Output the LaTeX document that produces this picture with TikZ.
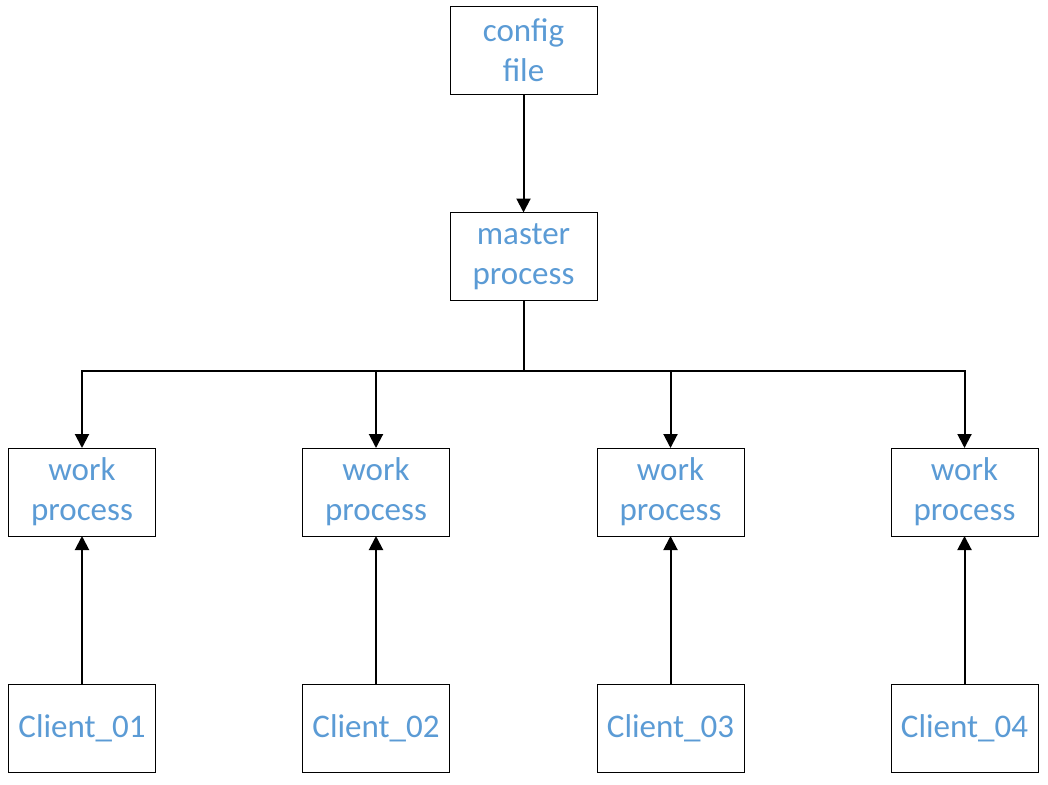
\documentclass[tikz,border=0pt]{standalone}
\usepackage{fontspec}
\setmainfont{Carlito}
\usetikzlibrary{arrows.meta}

\definecolor{c5b9bd5}{RGB}{91,155,213}

\begin{document}
\begin{tikzpicture}[y=-1pt, x=1pt, inner sep=0pt, outer sep=0pt,
    box/.style={draw=black,fill=white,line width=1pt,minimum width=147pt,
      minimum height=88pt,align=center,text=c5b9bd5,
      font=\fontsize{33}{40}\selectfont},
    link/.style={draw=black,line width=2pt,-{Triangle[width=14pt,length=14pt]}}]
  \useasboundingbox (0,0) rectangle (1048,784);

  \node[box] (config) at (523.5,50.5) {config\\file};
  \node[box] (master) at (523.5,256.5) {master\\process};
  \coordinate (hub) at (523.5,371);

  \foreach \i/\x in {1/82,2/376,3/670.5,4/964.5} {
    \node[box] (work\i) at (\x,492) {work\\process};
    \node[box] (client\i) at (\x,728) {Client\_0\i};
  }

  \draw[link] (config.south) -- (master.north);
  \draw[line width=2pt] (master.south) -- (hub);
  \foreach \i in {1,...,4} {
    \draw[link] (hub) -| (work\i.north);
    \draw[link] (client\i.north) -- (work\i.south);
  }
\end{tikzpicture}
\end{document}
